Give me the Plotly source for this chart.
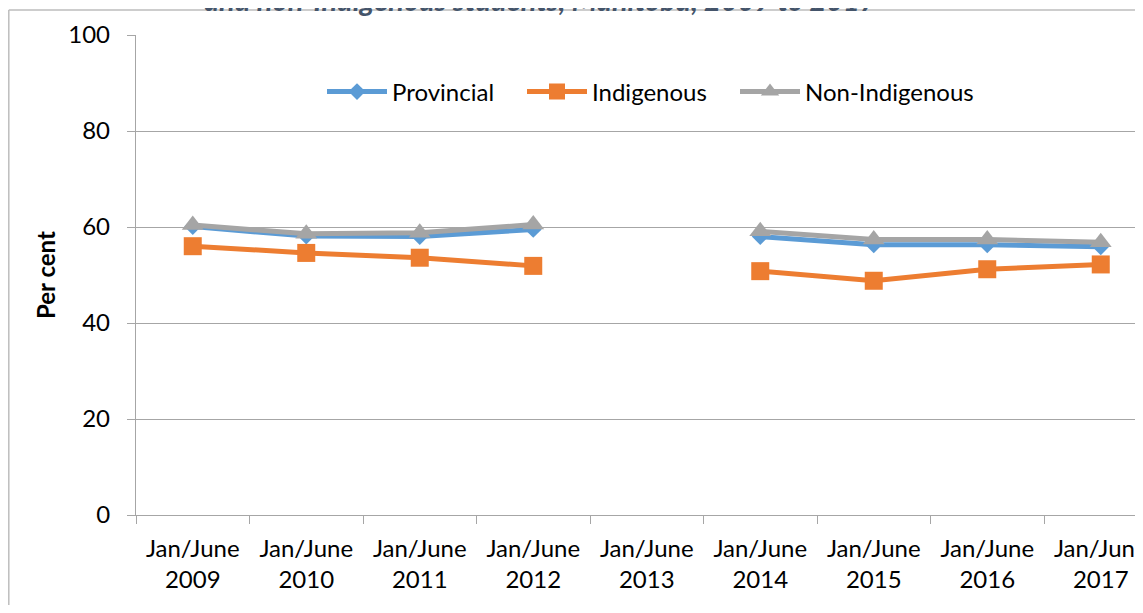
import plotly.graph_objects as go

categories = ["Jan/June<br>2009", "Jan/June<br>2010", "Jan/June<br>2011", "Jan/June<br>2012",
              "Jan/June<br>2013", "Jan/June<br>2014", "Jan/June<br>2015", "Jan/June<br>2016",
              "Jan/June<br>2017"]
provincial = [60.1, 58.1, 58.0, 59.5, None, 58.0, 56.3, 56.3, 55.9]
indigenous = [56.0, 54.6, 53.6, 51.9, None, 50.8, 48.8, 51.2, 52.2]
non_indigenous = [60.4, 58.6, 58.8, 60.5, None, 59.1, 57.4, 57.4, 56.8]
y_ticks = [0, 20, 40, 60, 80, 100]

FONT = "Lato"
FS = 24
GRID = "#A6A6A6"

# page has an 8px body margin on every side; figure coordinates are relative to the figure
OFF = 8
W, H = 1143 - 2 * OFF, 613 - 2 * OFF
L, T = 136 - OFF, 35 - OFF
B = H - (515 - OFF)
PW = W - L
PH = H - T - B


def px_x(p):
    """page pixel -> paper x"""
    return (p - OFF - L) / PW


def px_y(p):
    """page pixel -> paper y"""
    return (515 - p) / PH


fig = go.Figure()
fig.add_trace(go.Scatter(x=categories, y=provincial, name="Provincial", mode="lines+markers",
                         line=dict(color="#5B9BD5", width=5), legend="legend",
                         marker=dict(symbol="diamond", size=13, color="#5B9BD5")))
fig.add_trace(go.Scatter(x=categories, y=indigenous, name="Indigenous", mode="lines+markers",
                         line=dict(color="#ED7D31", width=5), legend="legend2",
                         marker=dict(symbol="square", size=18, color="#ED7D31")))
fig.add_trace(go.Scatter(x=categories, y=non_indigenous, name="Non-Indigenous", mode="lines+markers",
                         line=dict(color="#A5A5A5", width=5), legend="legend3",
                         marker=dict(symbol="triangle-up", size=19, color="#A5A5A5")))


def leg(px):
    return dict(orientation="h", x=px_x(px - 5), xanchor="left", y=px_y(92), yanchor="middle",
                font=dict(family=FONT, size=FS, color="black"), itemwidth=60,
                bgcolor="rgba(0,0,0,0)")


fig.update_layout(
    width=W, height=H,
    margin=dict(l=L, r=0, t=T, b=B),
    paper_bgcolor="white", plot_bgcolor="white",
    font=dict(family=FONT, size=FS, color="black"),
    showlegend=True,
    legend=leg(327), legend2=leg(527), legend3=leg(740),
    xaxis=dict(type="category", range=[-0.5, -0.5 + PW / 113.5], tickson="boundaries",
               ticks="outside", ticklen=8, tickcolor=GRID, tickwidth=1.3, automargin=False,
               showline=True, linecolor=GRID, linewidth=1.3, showgrid=False,
               tickfont=dict(family=FONT, size=FS, color="black"), ticklabelstandoff=12),
    yaxis=dict(range=[0, 100], tickvals=y_ticks, ticks="outside", ticklen=8, tickcolor=GRID,
               tickwidth=1.3, showline=True, linecolor=GRID, linewidth=1.3, automargin=False,
               showgrid=True, gridcolor=GRID, gridwidth=1.3, zeroline=False,
               tickfont=dict(family=FONT, size=FS, color="black"), ticklabelstandoff=12),
)

fig.add_annotation(text="<b>Per cent</b>", textangle=-90, xref="paper", yref="paper",
                   x=px_x(45), y=px_y(275), xanchor="center", yanchor="middle", showarrow=False,
                   font=dict(family=FONT, size=FS, color="black"))
fig.add_annotation(text="<b><i>and non-Indigenous students, Manitoba, 2009 to 2017</i></b>",
                   xref="paper", yref="paper", x=px_x(540), y=px_y(-1), xanchor="center",
                   yanchor="middle", showarrow=False,
                   font=dict(family=FONT, size=29, color="#44546A"))
# outer chart border (left and top edges visible)
fig.add_shape(type="line", xref="paper", yref="paper", x0=px_x(8.8), x1=px_x(8.8), y0=px_y(10),
              y1=px_y(700), line=dict(color="#BDBDBD", width=1.5))
fig.add_shape(type="line", xref="paper", yref="paper", x0=px_x(8.8), x1=px_x(1200), y0=px_y(10),
              y1=px_y(10), line=dict(color="#BDBDBD", width=1.5))

fig.write_html("out.html")
